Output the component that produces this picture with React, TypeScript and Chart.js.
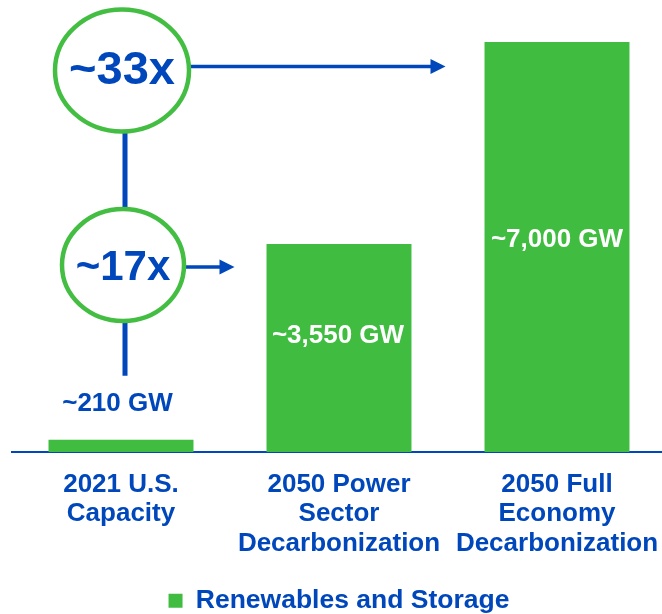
import React, { useEffect, useRef } from "react";
import { Chart, registerables } from "chart.js";

Chart.register(...registerables);

const categories: string[][] = [
  ["2021 U.S.", "Capacity"],
  ["2050 Power", "Sector", "Decarbonization"],
  ["2050 Full", "Economy", "Decarbonization"],
];
const capacityGW: number[] = [210, 3550, 7000];
const valueLabels: string[] = ["~210 GW", "~3,550 GW", "~7,000 GW"];
const seriesLabel = "Renewables and Storage";

const GREEN = "#40BD40";
const RING = "#43BE43";
const BLUE = "#0047BB";
const FONT = "'Liberation Sans', Arial, Helvetica, sans-serif";

const annotationPlugin = {
  id: "growthAnnotations",
  afterDatasetsDraw(chart: any) {
    const ctx: CanvasRenderingContext2D = chart.ctx;
    const bars = chart.getDatasetMeta(0).data;
    const yS = chart.scales.y;
    const base = yS.getPixelForValue(0);
    const b0 = bars[0].getProps(["x", "y", "width"], true);
    const b1 = bars[1].getProps(["x", "y", "width"], true);
    const b2 = bars[2].getProps(["x", "y", "width"], true);

    ctx.save();
    // value labels
    ctx.textAlign = "center";
    ctx.textBaseline = "middle";
    ctx.font = `bold 26px ${FONT}`;
    ctx.fillStyle = BLUE;
    ctx.fillText(valueLabels[0], b0.x - 3.5, b0.y - 36);
    ctx.fillStyle = "#ffffff";
    ctx.fillText(valueLabels[1], b1.x - 1, (b1.y + base) / 2 - 12);
    ctx.fillText(valueLabels[2], b2.x, (b2.y + base) / 2 - 7);

    // circles geometry
    const cx = b0.x + 1;
    const c1 = { x: cx, y: b2.y + 28.5, rx: 67, ry: 61 };
    const c2 = { x: cx, y: b1.y + 21, rx: 61, ry: 56 };

    // vertical connector
    ctx.strokeStyle = BLUE;
    ctx.lineWidth = 5;
    ctx.beginPath();
    ctx.moveTo(b0.x + 4, c1.y);
    ctx.lineTo(b0.x + 4, b0.y - 64);
    ctx.stroke();

    const arrow = (x1: number, y: number, x2: number) => {
      ctx.strokeStyle = BLUE;
      ctx.fillStyle = BLUE;
      ctx.lineWidth = 3.5;
      ctx.beginPath();
      ctx.moveTo(x1, y);
      ctx.lineTo(x2 - 12, y);
      ctx.stroke();
      ctx.beginPath();
      ctx.moveTo(x2, y);
      ctx.lineTo(x2 - 15, y - 7.5);
      ctx.lineTo(x2 - 15, y + 7.5);
      ctx.closePath();
      ctx.fill();
    };
    arrow(c1.x + c1.rx, c1.y - 4, b2.x - b2.width / 2 - 39);
    arrow(c2.x + c2.rx, c2.y + 2, b1.x - b1.width / 2 - 32);

    const ring = (c: any, text: string, size: number, dy: number) => {
      ctx.beginPath();
      ctx.ellipse(c.x, c.y, c.rx, c.ry, 0, 0, Math.PI * 2);
      ctx.fillStyle = "#ffffff";
      ctx.fill();
      ctx.lineWidth = 4.5;
      ctx.strokeStyle = RING;
      ctx.stroke();
      ctx.fillStyle = BLUE;
      ctx.font = `bold ${size}px ${FONT}`;
      ctx.textAlign = "center";
      ctx.textBaseline = "alphabetic";
      ctx.fillText(text, c.x, c.y + dy);
    };
    const r1 = Math.round(capacityGW[2] / capacityGW[0]);
    const r2 = Math.round(capacityGW[1] / capacityGW[0]);
    ring(c1, `~${r1}x`, 47, 13);
    ring({ ...c2, x: c2.x + 1 }, `~${r2}x`, 42, 15);
    ctx.restore();
  },
};

export default function App() {
  const ref = useRef<HTMLCanvasElement | null>(null);
  useEffect(() => {
    if (!ref.current) return;
    const chart = new Chart(ref.current, {
      type: "bar",
      data: {
        labels: categories as any,
        datasets: [
          {
            label: seriesLabel,
            data: capacityGW,
            backgroundColor: GREEN,
            borderWidth: 0,
            categoryPercentage: 1,
            barPercentage: 0.665,
          },
        ],
      },
      options: {
        animation: false,
        responsive: true,
        maintainAspectRatio: false,
        layout: { padding: { top: 42, left: 12, right: 0, bottom: 2 } },
        plugins: {
          tooltip: { enabled: false },
          legend: {
            position: "bottom",
            labels: {
              color: BLUE,
              boxWidth: 14,
              boxHeight: 14,
              padding: 10,
              font: { family: FONT, size: 26.5, weight: "bold" },
            },
          },
        },
        scales: {
          x: {
            grid: { display: false, drawTicks: false },
            border: { display: true, color: BLUE, width: 2 },
            ticks: {
              color: BLUE,
              padding: 18,
              maxRotation: 0,
              autoSkip: false,
              font: { family: FONT, size: 26, weight: "bold", lineHeight: 1.13 },
            },
            afterFit: (scale: any) => {
              scale.height = 125.5;
              scale.paddingLeft = 0;
              scale.paddingRight = 0;
            },
          },
          y: { display: false, min: 0, max: 7000 },
        },
      },
      plugins: [annotationPlugin],
    });
    return () => chart.destroy();
  }, []);

  return (
    <div
      style={{
        position: "fixed",
        left: 0,
        top: 0,
        width: 662,
        height: 614,
        overflow: "hidden",
        background: "#ffffff",
      }}
    >
      <div style={{ position: "relative", width: 666, height: 626 }}>
        <canvas ref={ref} />
      </div>
    </div>
  );
}
